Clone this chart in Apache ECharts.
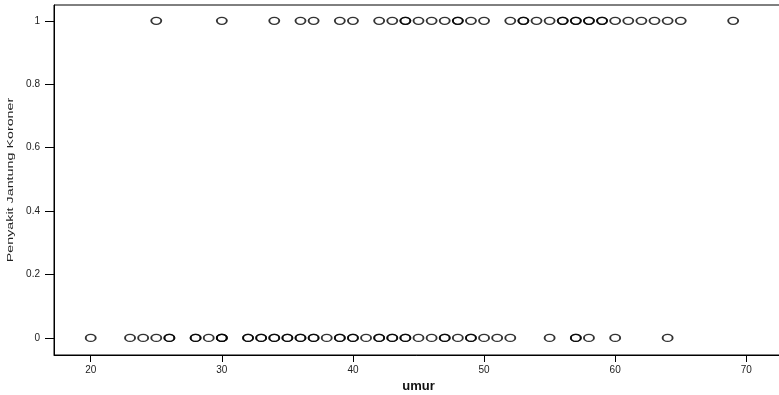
<!DOCTYPE html>
<html>
<head>
<meta charset="utf-8">
<script src="https://cdn.jsdelivr.net/npm/echarts@6/dist/echarts.min.js"></script>
<style>
  html, body { margin: 0; padding: 0; background: #fff; }
  #chart { width: 779px; height: 395px; }
</style>
</head>
<body>
<div id="chart"></div>
<script>
// umur values per outcome (repeats = overlapping cases)
var ageNo = [20, 23, 24, 25, 26, 26, 28, 28, 29, 30, 30, 30, 32, 32, 33, 33, 34, 34,
  35, 35, 36, 36, 37, 37, 38, 39, 39, 40, 40, 41, 42, 42, 43, 43, 44, 44, 45, 46,
  47, 47, 48, 49, 49, 50, 51, 52, 55, 57, 57, 58, 60, 64];
var ageYes = [25, 30, 34, 36, 37, 39, 40, 42, 43, 44, 44, 45, 46, 47, 48, 48, 49, 50,
  52, 53, 53, 54, 55, 56, 56, 57, 57, 58, 58, 59, 59, 60, 61, 62, 63, 64, 65, 69];
var xTicks = [20, 30, 40, 50, 60, 70];
var yTicks = [0, 0.2, 0.4, 0.6, 0.8, 1];

var points = [];
ageNo.forEach(function (a) { points.push([a, 0]); });
ageYes.forEach(function (a) { points.push([a, 1]); });

var chart = echarts.init(document.getElementById('chart'));
var txt = { color: '#222', fontFamily: 'Liberation Sans, Arial, sans-serif', fontSize: 10 };

chart.setOption({
  animation: false,
  grid: {
    left: 54, top: 5, bottom: 40, right: -4,
    outerBoundsMode: 'none',
    containLabel: false,
    show: true, borderColor: '#000', borderWidth: 1
  },
  // rotated, stretched y title (tall narrow lettering like the original)
  graphic: [{
    type: 'text',
    x: 10, y: 180,
    rotation: Math.PI / 2,
    scaleX: 1.3, scaleY: 0.9,
    style: {
      text: 'Penyakit Jantung Koroner',
      fill: '#222',
      font: '11px "Liberation Sans", Arial, sans-serif',
      align: 'center',
      verticalAlign: 'middle'
    }
  }],
  xAxis: {
    type: 'value',
    min: 17.2, max: 72.8,
    name: 'umur',
    nameLocation: 'middle',
    nameGap: 25,
    nameTextStyle: { color: '#111', fontFamily: 'Liberation Sans, Arial, sans-serif', fontSize: 13, fontWeight: 'bold' },
    axisLine: { show: true, onZero: false, lineStyle: { color: '#000', width: 1 } },
    axisTick: { show: true, length: 7, customValues: xTicks, lineStyle: { color: '#000' } },
    axisLabel: Object.assign({ customValues: xTicks, margin: 10 }, txt),
    splitLine: { show: false }
  },
  yAxis: {
    type: 'value',
    min: -0.054, max: 1.05,
    axisLine: { show: true, onZero: false, lineStyle: { color: '#000', width: 1 } },
    axisTick: { show: true, length: 9, customValues: yTicks, lineStyle: { color: '#000' } },
    axisLabel: Object.assign({ customValues: yTicks, margin: 14 }, txt),
    splitLine: { show: false }
  },
  series: [{
    type: 'scatter',
    data: points,
    symbol: 'circle',
    symbolSize: [10, 7],
    itemStyle: { color: 'transparent', borderColor: '#000', borderWidth: 1.6 },
    emphasis: { disabled: true }
  }]
});
</script>
</body>
</html>
